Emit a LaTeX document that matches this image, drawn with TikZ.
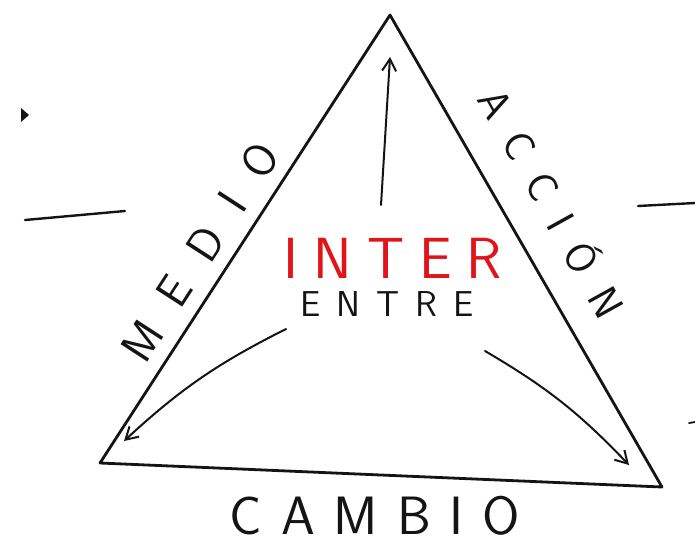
\documentclass[tikz,border=0pt]{standalone}
\usepackage{fontspec}
\makeatletter
\newcommand*{\spaced}[2]{\@tempswafalse\@tfor\sp@c:=#2\do{\if@tempswa\hspace{#1}\fi\@tempswatrue\sp@c}}
\makeatother
\newcommand*{\handfont}{\sffamily}
\definecolor{ink}{RGB}{20,20,20}
\definecolor{inkred}{RGB}{225,20,25}
\usetikzlibrary{arrows.meta}
\usetikzlibrary{positioning}
\tikzstyle{base}=[x=1pt, y=-1pt, line cap=round, line join=round]
\tikzstyle{edge}=[ink, line width=2.8pt]
\tikzstyle{flow}=[ink, line width=2pt, -{Straight Barb[length=12pt,width=14pt,line width=2pt]}]
\tikzstyle{word}=[ink, inner sep=0pt, outer sep=0pt]

\begin{document}
\begin{tikzpicture}[base]
    \useasboundingbox (0,0) rectangle (695,547);
    \fill [white] (0,0) rectangle (695,547);
    % corners of the triangle
    \coordinate (apex) at (390,15);
    \coordinate (left) at (100,463);
    \coordinate (right) at (662,487);
    \draw [edge] (apex) -- (right) -- (left) -- cycle;
    % words
    \node [word, text=inkred, font=\handfont\fontsize{58}{58}\selectfont] (inter) at (393,258) {\spaced{15pt}{INTER}};
    \node [word, font=\handfont\fontsize{36}{36}\selectfont] (entre) at (387,304) {\spaced{16pt}{ENTRE}};
    \node [word, rotate=57, font=\handfont\fontsize{46}{46}\selectfont] (medio) at (200,252) {\spaced{28pt}{MEDIO}};
    \node [word, rotate=-61, font=\handfont\fontsize{42}{42}\selectfont] (accion) at (554,202) {\spaced{22pt}{ACCIÓN}};
    \node [word, font=\handfont\fontsize{54}{54}\selectfont] (cambio) at (375,516) {\spaced{19pt}{CAMBIO}};
    % arrows out of the middle
    \coordinate (upfrom) at (381,205);
    \coordinate (upto) at (390,57);
    \coordinate (leftfrom) at (286,329);
    \coordinate (leftto) at (124,441);
    \coordinate (rightfrom) at (485,351);
    \coordinate (rightto) at (629,465);
    \draw [flow] (upfrom) -- (upto);
    \draw [flow] (leftfrom) to [bend right=8] (leftto);
    \draw [flow] (rightfrom) to [bend left=8] (rightto);
    % strokes at the sides
    \draw [edge, line width=2.4pt] (25,220) -- (125,211);
    \draw [edge, line width=2.4pt] (638,206) -- (695,203);
    \fill [ink] (21,108) -- (29,115) -- (21,122) -- cycle;
    \draw [edge, line width=1.8pt] (689,423) -- (695,422);
\end{tikzpicture}
\end{document}
